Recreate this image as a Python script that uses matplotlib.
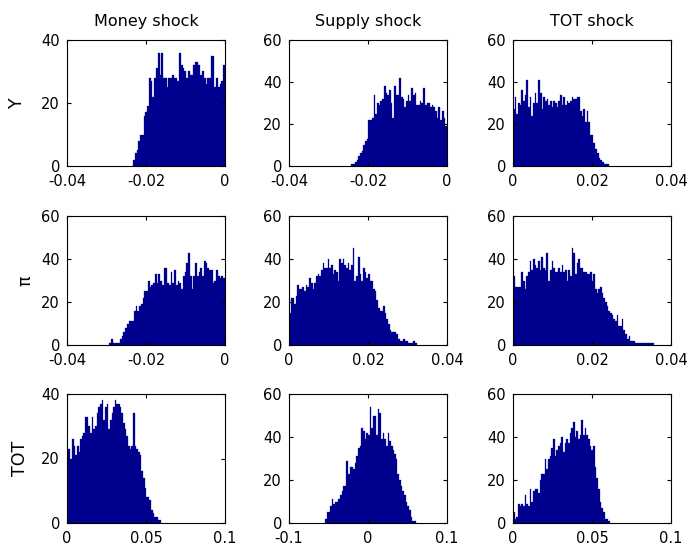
import numpy as np
import matplotlib
matplotlib.use("Agg")
import matplotlib.pyplot as plt
from matplotlib.ticker import FuncFormatter

plt.rcParams["font.family"] = ["DejaVu Sans"]
plt.rcParams["axes.unicode_minus"] = False

shocks = ["Money shock", "Supply shock", "TOT shock"]
variables = ["Y", "\u03c0", "TOT"]

# histogram counts, bins spread evenly over (lo, hi)
money_y_range = (-0.0233, 0.0)
money_y = [2, 4, 5, 8, 10, 10, 16, 17, 19, 28, 27, 22, 28, 31, 36, 29, 36, 28, 28, 25,
           28, 28, 29, 28, 28, 27, 36, 32, 31, 30, 28, 30, 29, 29, 32, 33, 33, 32, 29, 30,
           28, 26, 28, 28, 35, 35, 25, 28, 25, 26, 27, 32]

supply_y_range = (-0.0242, 0.0)
supply_y = [1, 1, 2, 3, 5, 6, 7, 10, 12, 13, 22, 22, 23, 34, 25, 30, 29, 31, 32, 38,
            35, 34, 36, 30, 23, 38, 34, 34, 42, 33, 32, 28, 31, 34, 31, 37, 34, 35, 29, 29,
            31, 30, 37, 29, 30, 30, 28, 29, 28, 26, 23, 28, 22, 26, 23, 19]

tot_y_range = (0.0, 0.0242)
tot_y = [27, 33, 25, 30, 29, 36, 31, 34, 41, 28, 33, 24, 30, 35, 30, 41, 35, 27, 33, 31,
         32, 29, 31, 28, 31, 30, 28, 31, 34, 29, 33, 29, 31, 30, 31, 33, 32, 32, 33, 33,
         26, 24, 27, 21, 26, 21, 15, 15, 11, 8, 6, 4, 3, 2, 1, 1, 1]

money_pi_range = (-0.0293, 0.0)
money_pi = [1, 3, 1, 1, 1, 1, 3, 4, 6, 8, 10, 11, 11, 11, 16, 18, 16, 18, 19, 22,
            25, 25, 30, 27, 28, 29, 33, 29, 33, 30, 28, 36, 36, 29, 28, 34, 29, 35, 28, 30,
            29, 26, 32, 34, 38, 43, 32, 26, 32, 38, 32, 34, 36, 32, 39, 38, 36, 35, 35, 29,
            30, 35, 32, 31, 32, 31]

supply_pi_range = (0.0, 0.0323)
supply_pi = [15, 22, 22, 19, 23, 28, 26, 26, 27, 25, 28, 27, 31, 29, 26, 29, 32, 33, 32, 35,
             38, 36, 36, 40, 36, 37, 33, 35, 34, 30, 40, 38, 40, 37, 36, 38, 35, 37, 45, 30,
             32, 41, 33, 30, 36, 34, 31, 33, 30, 30, 26, 25, 21, 17, 16, 16, 18, 15, 12, 10,
             7, 6, 6, 6, 5, 3, 2, 2, 3, 2, 2, 1, 1, 1, 2, 1]

tot_pi_range = (0.0, 0.0356)
tot_pi = [32, 27, 27, 27, 27, 34, 30, 26, 32, 34, 39, 35, 40, 37, 36, 39, 35, 41, 36, 35,
          43, 30, 35, 39, 36, 34, 34, 36, 34, 37, 34, 35, 30, 35, 32, 45, 43, 33, 38, 40,
          36, 36, 34, 34, 33, 33, 34, 30, 33, 26, 24, 26, 27, 24, 22, 20, 18, 16, 15, 14,
          12, 11, 14, 9, 9, 12, 7, 5, 3, 4, 2, 2, 2, 1, 1, 1, 1, 1, 1, 1,
          1, 1, 1, 1]

money_tot_range = (0.0, 0.0595)
money_tot = [23, 23, 20, 26, 24, 21, 24, 22, 26, 27, 28, 33, 33, 30, 28, 33, 29, 30, 34, 36,
             37, 38, 32, 36, 37, 29, 32, 34, 36, 38, 37, 37, 36, 34, 31, 29, 27, 24, 23, 24,
             34, 24, 23, 22, 21, 16, 14, 11, 8, 8, 7, 4, 3, 2, 2, 1, 1]

supply_tot_range = (-0.0543, 0.0602)
supply_tot = [2, 5, 5, 8, 11, 9, 10, 10, 11, 13, 15, 17, 17, 29, 23, 26, 26, 25, 28, 31,
              35, 36, 44, 43, 39, 42, 41, 54, 44, 50, 50, 41, 53, 51, 39, 42, 39, 36, 42, 38,
              36, 34, 32, 30, 23, 20, 17, 15, 13, 10, 8, 6, 3, 1, 1]

tot_tot_range = (0.0, 0.0611)
tot_tot = [5, 2, 3, 9, 8, 9, 8, 13, 9, 8, 16, 10, 15, 16, 16, 14, 20, 23, 23, 30,
           25, 30, 31, 35, 39, 31, 34, 36, 37, 40, 33, 37, 39, 37, 42, 44, 47, 40, 43, 39,
           41, 48, 41, 44, 41, 39, 36, 34, 36, 26, 21, 16, 10, 7, 5, 2, 2, 1]

hists = [
    [(money_y, money_y_range), (supply_y, supply_y_range), (tot_y, tot_y_range)],
    [(money_pi, money_pi_range), (supply_pi, supply_pi_range), (tot_pi, tot_pi_range)],
    [(money_tot, money_tot_range), (supply_tot, supply_tot_range), (tot_tot, tot_tot_range)],
]

xlims = [
    [(-0.04, 0), (-0.04, 0), (0, 0.04)],
    [(-0.04, 0), (0, 0.04), (0, 0.04)],
    [(0, 0.1), (-0.1, 0.1), (0, 0.1)],
]
xticks = [
    [[-0.04, -0.02, 0], [-0.04, -0.02, 0], [0, 0.02, 0.04]],
    [[-0.04, -0.02, 0], [0, 0.02, 0.04], [0, 0.02, 0.04]],
    [[0, 0.05, 0.1], [-0.1, 0, 0.1], [0, 0.05, 0.1]],
]
ymaxs = [[40, 60, 60], [60, 60, 60], [40, 60, 60]]

W, H = 689, 548
fig = plt.figure(figsize=(W / 100, H / 100), dpi=100)

col_left = [67, 289, 513]
col_width = 158
row_top = [40, 216, 394]
row_bottom = [166, 345, 523]
ylabel_x = [-0.26, -0.205, -0.24]

navy = "#00008f"
fmt = FuncFormatter(lambda v, pos: f"{v:g}")

for r in range(3):
    for c in range(3):
        x0 = col_left[c] / W
        y0 = 1 - row_bottom[r] / H
        h = (row_bottom[r] - row_top[r]) / H
        ax = fig.add_axes([x0, y0, col_width / W, h])

        counts, (lo, hi) = hists[r][c]
        edges = np.linspace(lo, hi, len(counts) + 1)
        ax.bar(edges[:-1], counts, width=np.diff(edges), align="edge",
               color=navy, edgecolor=navy, linewidth=0.2)

        ax.set_xlim(*xlims[r][c])
        ax.set_ylim(0, ymaxs[r][c])
        ax.set_xticks(xticks[r][c])
        ax.set_yticks(np.arange(0, ymaxs[r][c] + 1, 20))
        ax.xaxis.set_major_formatter(fmt)
        ax.tick_params(direction="in", top=True, right=True, length=3,
                       width=0.8, labelsize=10.5)
        ax.tick_params(axis="x", pad=5.5)
        ax.tick_params(axis="y", pad=5)
        for s in ax.spines.values():
            s.set_linewidth(0.8)

        if r == 0:
            ax.set_title(shocks[c], fontsize=11.5, pad=10)
        if c == 0:
            ax.set_ylabel(variables[r], fontsize=12.5)
            ax.yaxis.set_label_coords(ylabel_x[r], 0.5)

fig.savefig("out.png", dpi=100)
